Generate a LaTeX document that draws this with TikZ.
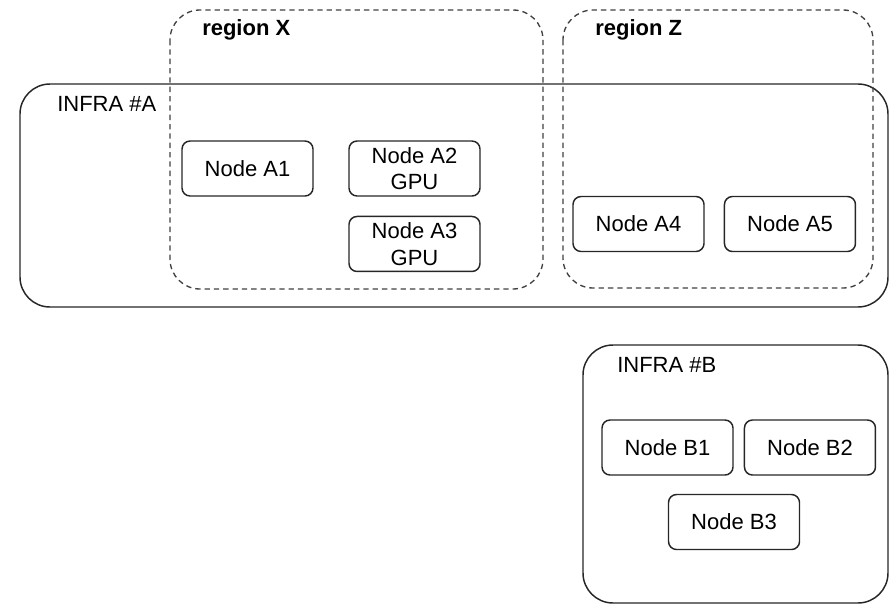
\documentclass[tikz,border=0pt]{standalone}
\usepackage{fontspec}
\setmainfont{Liberation Sans}
\usetikzlibrary{
  positioning      % relative placement of nodes
}
\tikzset{
  node distance=14.25pt and 14.25pt,
  machine/.style = {
    rectangle,
    rounded corners=6pt,
    draw=black!85,
    line width=1.1pt,
    minimum width=98.25pt,
    minimum height=41.25pt,
    align=center,
    inner sep=0pt,
    font=\fontsize{16.5}{19.8}\selectfont
  },
  infra/.style = {draw=black!85, line width=1.1pt, rounded corners=22.5pt},
  region/.style = {draw=black!75, line width=1pt, dash pattern=on 4pt off 3pt, rounded corners=22.5pt},
  boxlabel/.style = {anchor=west, inner sep=0pt, font=\fontsize{16.5}{19.8}\selectfont},
  regionlabel/.style = {boxlabel, font=\fontsize{16.5}{19.8}\selectfont\bfseries}
}

\begin{document}
\begin{tikzpicture}[x=0.75pt, y=-0.75pt]
\useasboundingbox (0,0) rectangle (890,604);

% infrastructures
\draw[infra] (20,84) rectangle (888,307);
\draw[infra] (583,345) rectangle (888,603);
% regions
\draw[region] (170,10) rectangle (543,289);
\draw[region] (563,10) rectangle (873,288);

\node[regionlabel] (regX) at (202,30) {region X};
\node[regionlabel] (regZ) at (595,30) {region Z};
\node[boxlabel] (infA) at (57,104) {INFRA \#A};
\node[boxlabel] (infB) at (617,365) {INFRA \#B};

% machines of INFRA #A
\node[machine] (A1) at (247.5,168.5) {Node A1};
\node[machine] (A2) at (414.5,168.5) {Node A2\\GPU};
\node[machine, below=of A2] (A3) {Node A3\\GPU};
\node[machine] (A4) at (638.5,224) {Node A4};
\node[machine, right=of A4] (A5) {Node A5};

% machines of INFRA #B
\node[machine] (B1) at (667.5,447.5) {Node B1};
\node[machine, right=7.5pt of B1] (B2) {Node B2};
\node[machine] (B3) at (734,522) {Node B3};
\end{tikzpicture}
\end{document}
